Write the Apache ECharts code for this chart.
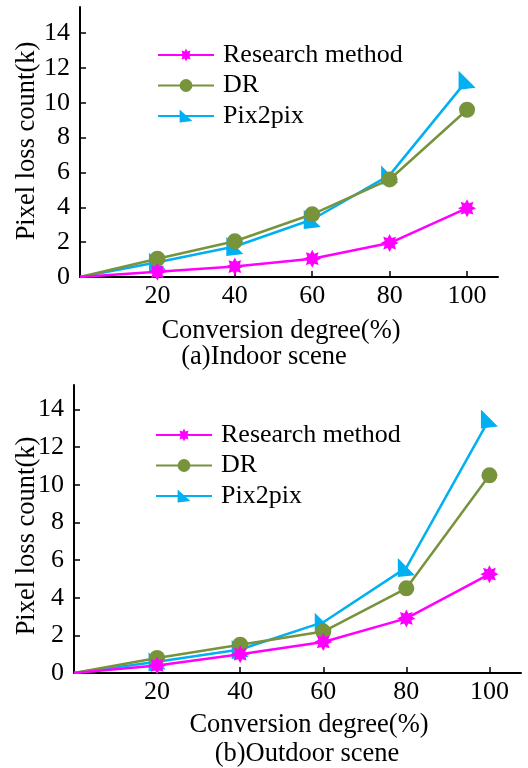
<!DOCTYPE html>
<html>
<head>
<meta charset="utf-8">
<script src="https://cdn.jsdelivr.net/npm/echarts@6/dist/echarts.min.js"></script>
<style>
html,body{margin:0;padding:0;background:#fff;}
#c{width:528px;height:768px;}
</style>
</head>
<body>
<div id="c"></div>
<script>
// ---- data ----
var xValues = [0, 20, 40, 60, 80, 100];
var xTicks = [20, 40, 60, 80, 100];
var yTicks = [0, 2, 4, 6, 8, 10, 12, 14];
var seriesNames = ['Research method', 'DR', 'Pix2pix'];

var indoorResearch = [0, 0.3, 0.6, 1.05, 1.95, 3.95];
var indoorDR       = [0, 1.05, 2.05, 3.6, 5.6, 9.6];
var indoorPix      = [0, 0.85, 1.75, 3.3, 5.85, 11.3];

var outdoorResearch = [0, 0.4, 1.0, 1.65, 2.9, 5.25];
var outdoorDR       = [0, 0.8, 1.5, 2.2, 4.5, 10.5];
var outdoorPix      = [0, 0.6, 1.25, 2.7, 5.6, 13.5];

var xNameText = 'Conversion degree(%)';
var yNameText = 'Pixel loss count(k)';
var captionA = '(a)Indoor scene';
var captionB = '(b)Outdoor scene';

// ---- styles ----
var FONT = 'Liberation Serif';
var COLORS = ['#FF00FF', '#77933C', '#00B0F0'];

function starPath(n, r1, r2) {
  var p = [];
  for (var i = 0; i < n * 2; i++) {
    var r = i % 2 === 0 ? r1 : r2;
    var a = Math.PI * i / n - Math.PI / 2;
    p.push((i === 0 ? 'M' : 'L') + (50 + r * Math.cos(a)).toFixed(2) + ',' + (50 + r * Math.sin(a)).toFixed(2));
  }
  return 'path://' + p.join(' ') + ' Z';
}
var SYM = [starPath(8, 50, 30), 'circle', 'path://M0,0 L0,100 L100,90 Z'];
var SYMSIZE = [18, 16, [17, 19]];

function mkData(vals) {
  return vals.map(function (v, i) {
    var item = { value: [xValues[i], v] };
    if (xValues[i] === 0) item.symbol = 'none';
    return item;
  });
}

function mkSeries(gi, arrs) {
  var order = [2, 1, 0];
  return order.map(function (k) {
    return {
      name: seriesNames[k],
      type: 'line',
      xAxisIndex: gi, yAxisIndex: gi,
      data: mkData(arrs[k]),
      symbol: SYM[k],
      symbolSize: SYMSIZE[k],
      showAllSymbol: true,
      z: 3 + (2 - k),
      lineStyle: { color: COLORS[k], width: 2.5 },
      itemStyle: { color: COLORS[k] },
      animation: false
    };
  });
}

function xAxisCfg(gi, max) {
  return {
    gridIndex: gi, type: 'value', min: 0, max: max,
    axisLine: { show: true, onZero: false, lineStyle: { color: '#000', width: 2 } },
    axisTick: { show: true, inside: true, length: 6, lineStyle: { color: '#000', width: 1.5 }, customValues: xTicks },
    axisLabel: { color: '#000', fontFamily: FONT, fontSize: 26, margin: 6, customValues: xTicks },
    splitLine: { show: false }
  };
}
function yAxisCfg(gi, max) {
  return {
    gridIndex: gi, type: 'value', min: 0, max: max,
    axisLine: { show: true, onZero: false, lineStyle: { color: '#000', width: 2 } },
    axisTick: { show: true, inside: true, length: 6, lineStyle: { color: '#000', width: 1.5 }, customValues: yTicks },
    axisLabel: { color: '#000', fontFamily: FONT, fontSize: 26, margin: 10, customValues: yTicks },
    splitLine: { show: false }
  };
}
function legendCfg(left, top) {
  return {
    data: seriesNames,
    orient: 'vertical',
    left: left, top: top, padding: 0,
    itemWidth: 56, itemHeight: 16, itemGap: 4.5,
    textStyle: { color: '#000', fontFamily: FONT, fontSize: 26, padding: [0, 0, 0, 4], lineHeight: 26 },
    selectedMode: false
  };
}
function txt(x, y, s, rot) {
  return {
    type: 'text', x: x, y: y, rotation: rot || 0,
    style: { text: s, fill: '#000', fontFamily: FONT, fontSize: 26.5, align: 'center', verticalAlign: 'middle' }
  };
}

var chart = echarts.init(document.getElementById('c'), null, { renderer: 'canvas' });
chart.setOption({
  animation: false,
  backgroundColor: '#fff',
  textStyle: { fontFamily: FONT },
  grid: [
    { left: 80, top: 7, width: 418, height: 270 },
    { left: 74, top: 385, width: 447, height: 288 }
  ],
  xAxis: [xAxisCfg(0, 108), xAxisCfg(1, 107.6)],
  yAxis: [yAxisCfg(0, 15.5), yAxisCfg(1, 15.3)],
  legend: [legendCfg(157, 42), legendCfg(155, 422)],
  series: mkSeries(0, [indoorResearch, indoorDR, indoorPix]).concat(mkSeries(1, [outdoorResearch, outdoorDR, outdoorPix])),
  graphic: [
    txt(281, 331, xNameText),
    txt(264, 357, captionA),
    txt(309, 725, xNameText),
    txt(307, 754, captionB),
    txt(27, 141, yNameText, Math.PI / 2),
    txt(27, 536, yNameText, Math.PI / 2)
  ]
});
</script>
</body>
</html>
